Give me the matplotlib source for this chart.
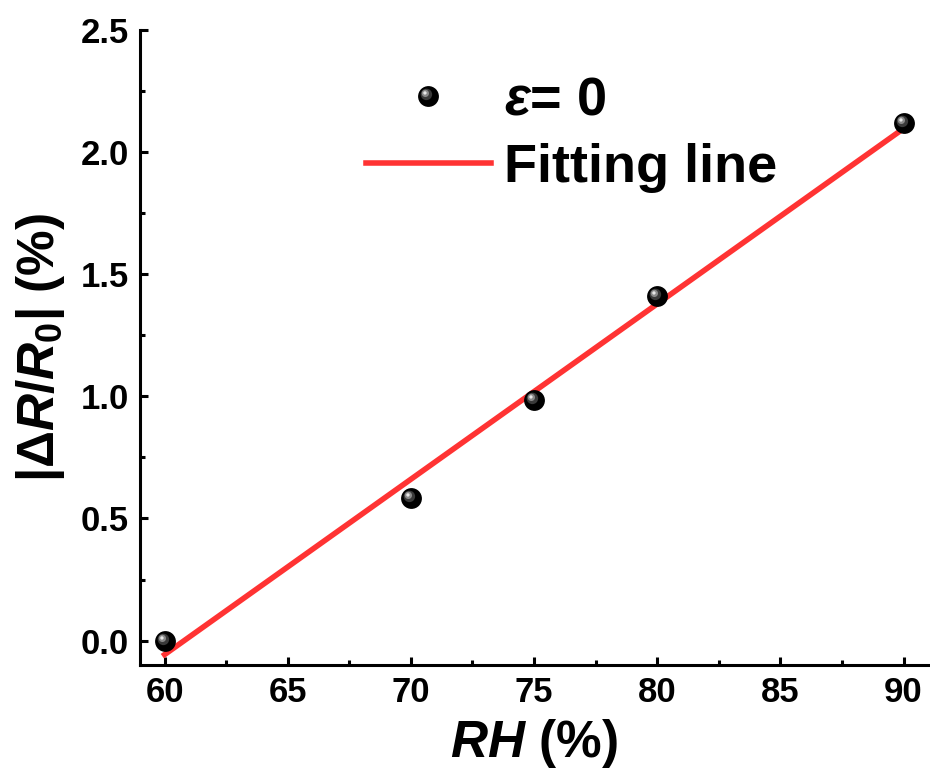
import numpy as np
import matplotlib
matplotlib.use('Agg')
import matplotlib.pyplot as plt
from matplotlib.markers import MarkerStyle
from matplotlib.transforms import Affine2D
from matplotlib.legend_handler import HandlerTuple
from matplotlib.ticker import MultipleLocator

rh = [60, 70, 75, 80, 90]
dr = [0.0, 0.585, 0.985, 1.41, 2.118]

plt.rcParams['font.family'] = 'Liberation Sans'
plt.rcParams['font.weight'] = 'bold'
plt.rcParams['axes.labelweight'] = 'bold'
plt.rcParams['mathtext.fontset'] = 'custom'
plt.rcParams['mathtext.rm'] = 'Liberation Sans:bold'
plt.rcParams['mathtext.it'] = 'Liberation Sans:italic:bold'
plt.rcParams['mathtext.bf'] = 'Liberation Sans:bold'


def main():
    fig = plt.figure(figsize=(9.3, 7.73), dpi=100)
    ax = fig.add_axes([0.1505, 0.1397, 0.8475, 0.8215])

    # linha de ajuste (regressao linear)
    a, b = np.polyfit(rh, dr, 1)
    xf = np.array([rh[0], rh[-1]])
    line, = ax.plot(xf, a * xf + b, color='#ff3333', lw=4, zorder=2)

    # bolinhas pretas com brilho
    ms = 15
    layers = [('black', 1.0, 0.0), ('#3a3a3a', 0.55, 0.1),
              ('#8a8a8a', 0.35, 0.15), ('#e8e8e8', 0.16, 0.17)]
    handles = []
    for i, (c, s, off) in enumerate(layers):
        m = MarkerStyle('o', transform=Affine2D().scale(s).translate(-off, off))
        h, = ax.plot(rh, dr, ls='none', marker=m, ms=ms, color=c,
                     markeredgewidth=0, zorder=3 + i)
        handles.append(h)

    ax.set_xlim(59, 91)
    ax.set_ylim(-0.1, 2.5)
    ax.xaxis.set_major_locator(MultipleLocator(5))
    ax.xaxis.set_minor_locator(MultipleLocator(2.5))
    ax.yaxis.set_minor_locator(MultipleLocator(0.25))
    ax.set_yticks([0, 0.5, 1.0, 1.5, 2.0, 2.5])
    ax.set_yticklabels(['0.0', '0.5', '1.0', '1.5', '2.0', '2.5'])

    for s in ['top', 'right']:
        ax.spines[s].set_visible(False)
    for s in ['left', 'bottom']:
        ax.spines[s].set_linewidth(2.2)
    ax.tick_params(which='major', direction='in', length=6, width=2.2,
                   labelsize=25, pad=8)
    ax.tick_params(which='minor', direction='in', length=3.5, width=2.2)

    ax.set_xlabel(r'$\mathit{RH}$ (%)', fontsize=37, labelpad=6)
    ax.set_ylabel(r'$|\mathit{\Delta R/R}_\mathrm{0}|$ (%)', fontsize=37, labelpad=10)

    ax.legend([tuple(handles), line],
              [r'$\mathit{\varepsilon}$= 0', 'Fitting line'],
              handler_map={tuple: HandlerTuple(ndivide=1, pad=0)},
              loc='upper left', bbox_to_anchor=(0.225, 1.005), frameon=False,
              fontsize=39, handlelength=2.3, labelspacing=0.32,
              handletextpad=0.25)

    fig.savefig('out.png')


if __name__ == "__main__":
    main()
